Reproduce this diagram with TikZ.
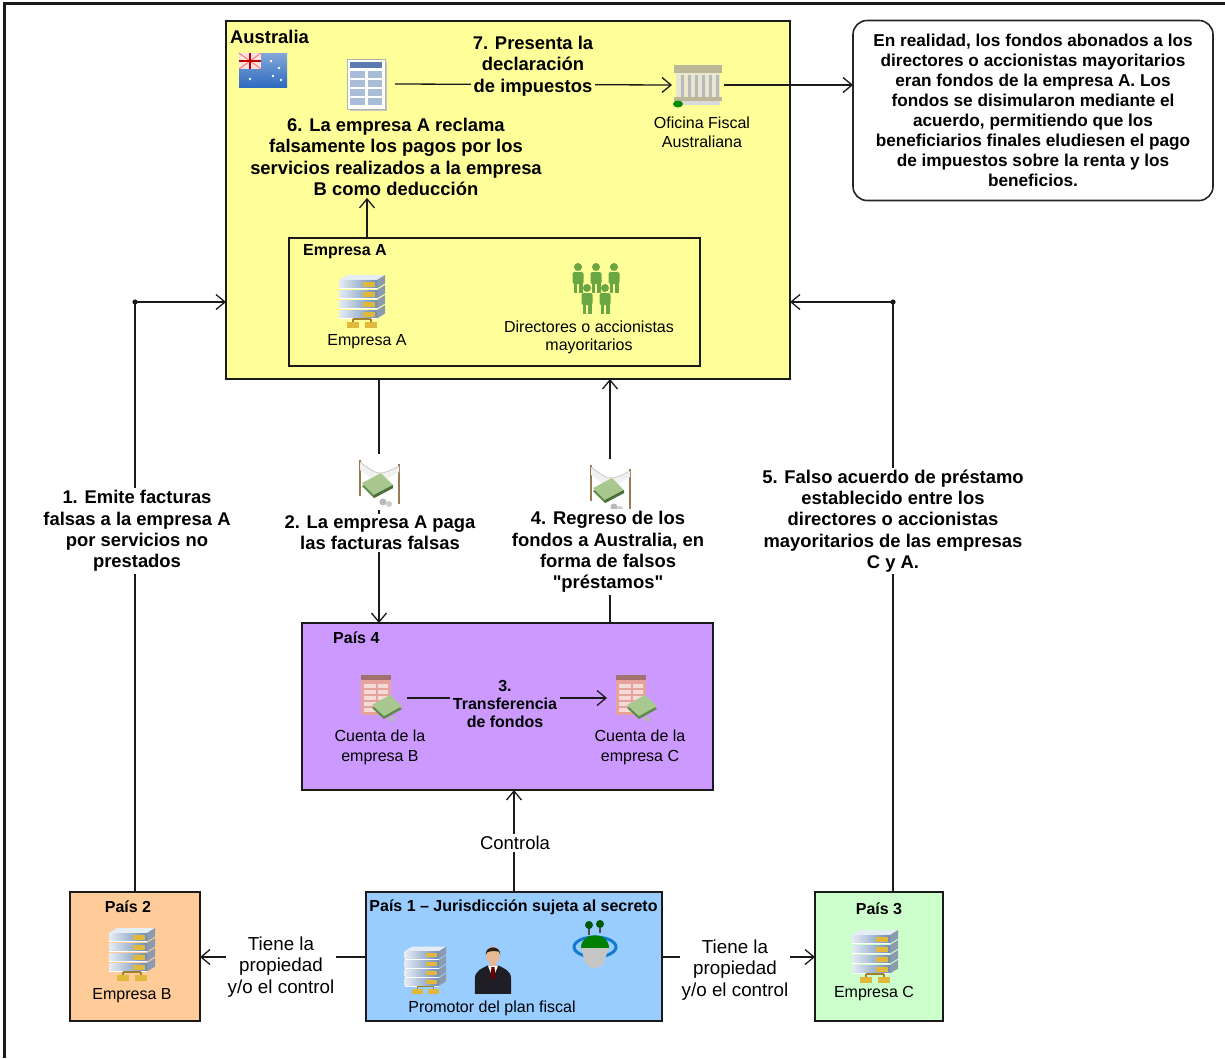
\documentclass[tikz,border=0pt]{standalone}
\usepackage{fontspec}
\setmainfont{Liberation Sans}[Ligatures=TeXOff]
\usetikzlibrary{arrows.meta}
\definecolor{ausY}{HTML}{FFFF99}
\definecolor{purp}{HTML}{CC99FF}
\definecolor{orng}{HTML}{FFCC99}
\definecolor{blu}{HTML}{99CCFF}
\definecolor{grn}{HTML}{CCFFCC}
\definecolor{srvblue}{HTML}{6F8DB5}
\definecolor{srvside}{HTML}{8C9AAE}
\definecolor{srvtop}{HTML}{E4ECF4}
\definecolor{srvyel}{HTML}{E2B83C}
\definecolor{ppl}{HTML}{6AA642}
\definecolor{flagblue}{HTML}{2F6CC0}
\definecolor{formblue}{HTML}{5B7BB0}
\definecolor{formcell}{HTML}{A9BCD8}
\definecolor{bldg}{HTML}{E9E6CF}
\definecolor{bldgdark}{HTML}{BDB79A}
\definecolor{moneyg}{HTML}{5E8A4A}
\definecolor{moneyl}{HTML}{A8C890}
\definecolor{postb}{HTML}{9A7A52}
\definecolor{acct}{HTML}{E6A39C}
\definecolor{suit}{HTML}{1E1E24}
\definecolor{skin}{HTML}{E8B894}
\definecolor{hair}{HTML}{2A2018}
\definecolor{lineC}{HTML}{1A1A1A}
\tikzset{
  box/.style={draw=lineC, line width=1.6pt, inner sep=0pt, outer sep=0pt},
  conn/.style={draw=lineC, line width=1.3pt},
  arr/.style={conn, -{Straight Barb[length=9pt,width=15pt]}},
  blbl/.style={font=\bfseries\fontsize{18.4}{21.3}\selectfont, align=center, inner sep=2pt},
  ttl/.style={font=\bfseries\fontsize{16}{19}\selectfont, inner sep=0pt},
  rlbl/.style={font=\fontsize{16}{19}\selectfont, align=center, inner sep=1pt},
  tlbl/.style={font=\fontsize{18.8}{21.5}\selectfont, align=center, inner sep=2pt, fill=white},
  iconholder/.style={inner sep=0pt, outer sep=0pt, minimum width=#1, minimum height=50pt},
  server/.pic={
    \fill[srvtop] (-26,-22) -- (-18,-27) -- (20,-27) -- (12,-22) -- cycle;
    \foreach \yy in {-22,-12,-2,8}{
      \shade[left color=srvtop, right color=srvblue] (-26,\yy) rectangle (12,\yy+8.5);
      \fill[srvside] (12,\yy) -- (20,\yy-5) -- (20,\yy+3.5) -- (12,\yy+8.5) -- cycle;
      \fill[srvyel] (-2,\yy+2) rectangle (10,\yy+6.5);
      \draw[white, line width=0.6pt] (-26,\yy+8.5) -- (12,\yy+8.5);
    }
    \draw[srvyel!70!black, line width=1.2pt] (-12,17) -- (-12,20) (6,17) -- (6,20) (-12,17) -- (6,17);
    \fill[srvyel] (-18,20) rectangle (-6,26);
    \fill[srvyel] (0,20) rectangle (12,26);
  },
  people/.pic={
    \foreach \px/\py in {-18/-12, 0/-12, 18/-12, -9/9, 9/9}{
      \fill[ppl] (\px,\py-9) circle (4pt);
      \fill[ppl, rounded corners=2pt] (\px-5.5,\py-4) rectangle (\px+5.5,\py+8);
      \fill[ppl] (\px-4.5,\py+7) rectangle (\px-0.8,\py+17);
      \fill[ppl] (\px+0.8,\py+7) rectangle (\px+4.5,\py+17);
    }
  },
  flag/.pic={
    \shade[top color=flagblue!60!white, bottom color=flagblue] (-24,-17) rectangle (24,17);
    \fill[red!12!white] (-24,-17) rectangle (-2,-1);
    \draw[red!60, line width=0.8pt] (-24,-17) -- (-2,-1) (-2,-17) -- (-24,-1);
    \draw[red!75!black, line width=2pt] (-13,-17) -- (-13,-1) (-24,-9) -- (-2,-9);
    \foreach \sx/\sy in {-13/9, 8/-9, 16/-2, 10/6, 18/10}{\fill[white] (\sx,\sy) circle (1.4pt);}
  },
  form/.pic={
    \fill[gray!45] (-16,-22) rectangle (21,27);
    \fill[white] (-19,-25) rectangle (19,25);
    \draw[gray!60, line width=0.6pt] (-19,-25) rectangle (19,25);
    \fill[formblue] (-16,-22) rectangle (16,-16);
    \foreach \ry in {-13,-4,5,14}{
      \fill[formcell] (-16,\ry) rectangle (-1.5,\ry+7);
      \fill[formcell] (1.5,\ry) rectangle (16,\ry+7);
    }
  },
  office/.pic={
    \fill[bldgdark] (-24,-20) rectangle (24,-12);
    \fill[bldg] (-22,-12) rectangle (22,20);
    \foreach \cx in {-16,-9,-2,5,12,19}{\fill[gray!55] (\cx-1.5,-10) rectangle (\cx+1.5,12);}
    \fill[bldgdark] (-24,12) rectangle (24,16);
    \fill[gray!30] (-22,16) rectangle (22,20);
    \fill[green!55!black] (-20,19) ellipse (5pt and 3.5pt);
  },
  money/.pic={
    \draw[postb, line width=2.2pt] (-19,-22) -- (-19,14);
    \draw[postb, line width=2.2pt] (20,-18) -- (20,22);
    \fill[gray!12] (-19,-20) .. controls (0,-6) .. (20,-16) -- (20,-10) .. controls (0,2) .. (-19,-12) -- cycle;
    \draw[gray!50, line width=0.6pt] (-19,-20) .. controls (0,-6) .. (20,-16);
    \fill[moneyg] (-17,4) -- (2,-6) -- (14,6) -- (-5,16) -- cycle;
    \fill[moneyl] (-17,1) -- (2,-9) -- (14,3) -- (-5,13) -- cycle;
    \fill[moneyg!80!black] (-5,13) -- (14,3) -- (14,6) -- (-5,16) -- cycle;
    \fill[gray!55] (4,20) circle (3.5pt);
    \fill[gray!40] (10,22) circle (3pt);
  },
  acctpic/.pic={
    \fill[acct] (-17,-23) rectangle (13,17);
    \fill[acct!70!black] (-17,-23) rectangle (13,-18);
    \foreach \ry in {-14,-8,-2,4,10}{
      \fill[white!60!acct] (-14,\ry) rectangle (-2,\ry+3.5);
      \fill[white!60!acct] (0,\ry) rectangle (10,\ry+3.5);
    }
    \fill[moneyg] (-6,10) -- (12,0) -- (24,11) -- (6,21) -- cycle;
    \fill[moneyl] (-6,7) -- (12,-3) -- (24,8) -- (6,18) -- cycle;
    \fill[gray!55] (14,21) circle (3pt);
  },
  manpic/.pic={
    \fill[suit] (-21,30) -- (-21,12) .. controls (-21,3) and (-12,0) .. (-6,-3) -- (6,-3) .. controls (12,0) and (21,3) .. (21,12) -- (21,30) -- cycle;
    \fill[white] (-6,-3) -- (6,-3) -- (0,12) -- cycle;
    \fill[red!40!black] (-1.8,-1) -- (1.8,-1) -- (2.8,10) -- (0,14) -- (-2.8,10) -- cycle;
    \fill[skin] (-4,-8) rectangle (4,-2);
    \fill[skin] (0,-15) ellipse (8pt and 10pt);
    \fill[hair] (-8.5,-15) .. controls (-9,-27) and (9,-27) .. (8.5,-15) -- (7,-19) .. controls (2,-20) and (-4,-20) .. (-7,-18) -- cycle;
  },
  islandpic/.pic={
    \draw[cyan!60!blue, line width=3pt] (0,2) ellipse (21pt and 10pt);
    \fill[gray!45] (-14,2) -- (14,2) -- (8,20) -- (-2,24) -- (-10,18) -- cycle;
    \fill[green!50!black] (-14,3) .. controls (-14,-14) and (14,-14) .. (14,3) -- cycle;
    \draw[gray!60!black, line width=1.2pt] (-6,-10) -- (-6,-22) (5,-12) -- (5,-23);
    \fill[green!35!black] (-6,-20) circle (4pt);
    \fill[green!35!black] (5,-21) circle (4pt);
  },
}
\begin{document}
\begin{tikzpicture}[x=1pt,y=-1pt]
\useasboundingbox (0,0) rectangle (1225,1058);
\draw[line width=3pt, lineC] (4.8,1058) -- (4.8,3.6) -- (1225,3.6);

% ---------- boxes ----------
\node[box, fill=ausY, minimum width=564pt, minimum height=358pt] (aus) at (508,200) {};
\node[box, minimum width=411pt, minimum height=128pt] (empA) at (494.5,302) {};
\node[box, draw=gray!30!black, fill=white, rounded corners=14pt, minimum width=360pt, minimum height=180pt,
      font=\bfseries\fontsize{17.2}{20}\selectfont, align=center] (note) at (1033,110.5)
 {En realidad, los fondos abonados a los\\directores o accionistas mayoritarios\\eran fondos de la empresa A. Los\\fondos se disimularon mediante el\\acuerdo, permitiendo que los\\beneficiarios finales eludiesen el pago\\de impuestos sobre la renta y los\\beneficios.};
\node[box, fill=purp, minimum width=411pt, minimum height=167pt] (pais4) at (507.5,706.5) {};
\node[box, fill=orng, minimum width=130pt, minimum height=129pt] (pais2) at (135,956.5) {};
\node[box, fill=blu, minimum width=296pt, minimum height=129pt] (pais1) at (514,956.5) {};
\node[box, fill=grn, minimum width=128pt, minimum height=129pt] (pais3) at (879,956.5) {};

% ---------- titles ----------
\node[ttl, font=\bfseries\fontsize{18.4}{21}\selectfont, anchor=west] (ausT) at (230,37) {Australia};
\node[ttl, anchor=west] (empAT) at (303,252) {Empresa A};
\node[ttl, anchor=west] (p4T) at (333,638) {País 4};
\node[ttl] (p2T) at (128,907) {País 2};
\node[ttl] (p1T) at (513.5,907) {País 1 – Jurisdicción sujeta al secreto};
\node[ttl] (p3T) at (879,909) {País 3};

% ---------- icons ----------
\node[iconholder=50pt] (flag) at (263,70) {}; \pic at (flag) {flag};
\node[iconholder=58pt] (form) at (366,84) {}; \pic at (form) {form};
\node[iconholder=52pt] (office) at (698,85) {}; \pic at (office) {office};
\node[rlbl] (officeL) at (702,132) {Oficina Fiscal\\Australiana};

\node[iconholder=54pt] (srvA) at (365,302) {}; \pic at (srvA) {server};
\node[rlbl] (srvAL) at (367,342) {Empresa A};
\node[iconholder=58pt] (ppl) at (596,288) {}; \pic at (ppl) {people};
\node[rlbl, font=\fontsize{16}{18}\selectfont] (pplL) at (589,337) {Directores o accionistas\\mayoritarios};

\node[iconholder=58pt] (acctB) at (378,698) {}; \pic at (acctB) {acctpic};
\node[iconholder=52pt] (acctC) at (633,698) {}; \pic at (acctC) {acctpic};
\node[rlbl, font=\fontsize{16}{20}\selectfont] (acctBL) at (380,747) {Cuenta de la\\empresa B};
\node[rlbl, font=\fontsize{16}{20}\selectfont] (acctCL) at (640,747) {Cuenta de la\\empresa C};

\node[iconholder=54pt] (srvB) at (135,955) {}; \pic at (srvB) {server};
\node[rlbl] (srvBL) at (132,996) {Empresa B};
\node[iconholder=50pt] (srvP) at (428,971) {}; \pic[scale=0.9] at (srvP) {server};
\node[iconholder=40pt] (man) at (493,968) {}; \pic[scale=0.86] at (man) {manpic};
\node[iconholder=46pt] (isl) at (595,945) {}; \pic at (isl) {islandpic};
\node[rlbl] (promL) at (492,1008) {Promotor del plan fiscal};
\node[iconholder=54pt] (srvC) at (878,957) {}; \pic at (srvC) {server};
\node[rlbl] (srvCL) at (874,994) {Empresa C};

\node[blbl] (L6) at (396,157) {6. La empresa A reclama\\falsamente los pagos por los\\servicios realizados a la empresa\\B como deducción};

% ---------- connectors ----------
\coordinate (dotL) at (135,302);
\coordinate (dotR) at (893,302);
\coordinate (x2) at (379,500);
\coordinate (x4) at (610,500);
\coordinate (x6) at (367,220);
\coordinate (yT) at (300,957);

\draw[conn] (pais2.north) -- (dotL);
\draw[arr] (dotL) -- (dotL -| aus.west);
\fill[lineC] (dotL) circle (2.6pt);
\draw[conn] (pais3.north -| dotR) -- (dotR);
\draw[arr] (dotR) -- (dotR -| aus.east);
\fill[lineC] (dotR) circle (2.6pt);

\draw[arr] (aus.south -| x2) -- (pais4.north -| x2);
\draw[arr] (pais4.north -| x4) -- (aus.south -| x4);
\draw[arr] (pais1.north) -- (pais1.north |- pais4.south);
\draw[arr] (pais1.west |- yT) -- (pais2.east |- yT);
\draw[arr] (pais1.east |- yT) -- (pais3.west |- yT);
\draw[arr] (empA.north -| x6) -- (L6.south -| x6);
\draw[arr] (form.east) -- (office.west);
\draw[arr] (office.east) -- (office.east -| note.west);
\draw[arr] (acctB.east) -- (acctC.west);

% ---------- labels over connectors ----------
\node[blbl, fill=ausY] (L7) at (533,66) {7. Presenta la\\declaración\\de impuestos};
\node[blbl, fill=white] (L1) at (137,531) {1. Emite facturas\\falsas a la empresa A\\por servicios no\\prestados};
\node[blbl, fill=white] (L5) at (893,521) {5. Falso acuerdo de préstamo\\establecido entre los\\directores o accionistas\\mayoritarios de las empresas\\C y A.};
\node[fill=white, inner sep=0pt, minimum width=56pt, minimum height=56pt] (m2) at (379,482) {}; \pic at (m2) {money};
\node[fill=white, inner sep=0pt, minimum width=56pt, minimum height=56pt] (m4) at (610,487) {}; \pic at (m4) {money};
\node[blbl, fill=white] (L2) at (380,533) {2. La empresa A paga\\las facturas falsas};
\node[blbl, fill=white] (L4) at (608,552) {4. Regreso de los\\fondos a Australia, en\\forma de falsos\\"préstamos"};
\node[blbl, fill=purp, font=\bfseries\fontsize{16}{18.3}\selectfont, inner sep=3pt] (L3) at (505,704) {3.\\Transferencia\\de fondos};
\node[tlbl, font=\fontsize{18.5}{21}\selectfont] (ctrl) at (515,843) {Controla};
\node[tlbl] (tieneL) at (281,967) {Tiene la\\propiedad\\y/o el control};
\node[tlbl] (tieneR) at (735,970) {Tiene la\\propiedad\\y/o el control};
\end{tikzpicture}
\end{document}
